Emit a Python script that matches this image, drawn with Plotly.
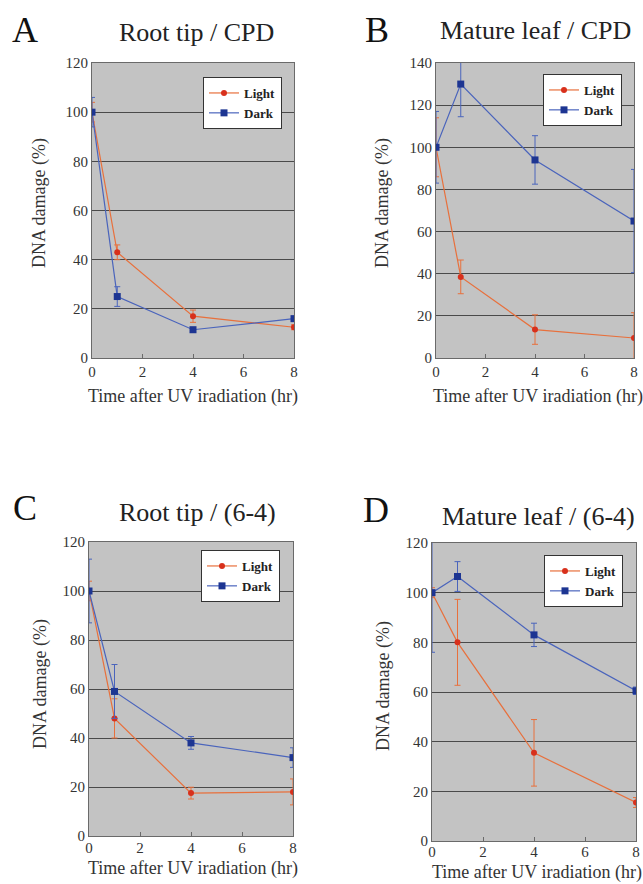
import plotly.graph_objects as go

W, H = 643, 884

time_hr = [0, 1, 4, 8]
x_ticks = [0, 2, 4, 6, 8]

# Panel A: Root tip / CPD
light_A = [100, 43, 17, 12.5]
light_A_err = [4, 3, 2.5, 1]
dark_A = [100, 25, 11.5, 16]
dark_A_err = [6, 4, 1, 1]

# Panel B: Mature leaf / CPD
light_B = [100, 38.5, 13.5, 9.5]
light_B_err = [14, 8, 7, 12]
dark_B = [100, 130, 94, 65]
dark_B_err = [17, 15.5, 11.5, 24.5]

# Panel C: Root tip / (6-4)
light_C = [100, 48, 17.5, 18]
light_C_err = [4, 8, 2.4, 5.3]
dark_C = [100, 59, 38, 32]
dark_C_err = [13, 11, 2.6, 4]

# Panel D: Mature leaf / (6-4)
light_D = [100, 80, 35.5, 15.5]
light_D_err = [2, 17.3, 13.4, 2]
dark_D = [100, 106.5, 83, 60.5]
dark_D_err = [24, 6, 4.7, 1.5]

panel_letters = ["A", "B", "C", "D"]
panel_titles = ["Root tip / CPD", "Mature leaf / CPD", "Root tip / (6-4)", "Mature leaf / (6-4)"]
y_max = [120, 140, 120, 120]
series_names = ["Light", "Dark"]

LIGHT_LINE = "#e8703c"
LIGHT_MARK = "#d8301c"
DARK_LINE = "#4a64bc"
DARK_MARK = "#1d3592"
FONT = "Liberation Serif"

# pixel boxes of plot areas: (left, right, top, bottom)
boxes = [(92, 294, 63, 358), (436, 634, 63, 358), (89, 293, 542, 836), (432, 636, 543, 841)]
legend_pos = [(282, 77), (622, 74), (280, 550), (623, 555)]   # right, top
letter_pos = [(25, 30), (377, 30), (25, 508), (376, 510)]
title_pos = [(196, 33), (535, 31), (197, 512), (538, 516)]
ytitle_pos = [(40, 203), (383, 203), (40, 684), (383, 686)]
xtitle_pos = [(193, 397), (538, 397), (193, 868), (537, 872)]
tick_standoff = [0, 0, -2, -3]

data = [
    (light_A, light_A_err, dark_A, dark_A_err),
    (light_B, light_B_err, dark_B, dark_B_err),
    (light_C, light_C_err, dark_C, dark_C_err),
    (light_D, light_D_err, dark_D, dark_D_err),
]

fig = go.Figure()
annotations = []
layout = {}


def ann(text, px, py, size, color, angle=0):
    return dict(text=text, x=px / W, y=1 - py / H, xref="paper", yref="paper",
                xanchor="center", yanchor="middle", showarrow=False, textangle=angle,
                font=dict(family=FONT, size=size, color=color))


for i in range(4):
    ax = "" if i == 0 else str(i + 1)
    leg = "legend" if i == 0 else "legend%d" % (i + 1)
    l, r, t, b = boxes[i]
    lv, le, dv, de = data[i]
    for name, vals, errs, lc, mc, sym, ms in [
        (series_names[0], lv, le, LIGHT_LINE, LIGHT_MARK, "circle", 6),
        (series_names[1], dv, de, DARK_LINE, DARK_MARK, "square", 7),
    ]:
        fig.add_trace(go.Scatter(
            x=time_hr, y=vals, name=name, mode="lines+markers",
            xaxis="x" + ax, yaxis="y" + ax, legend=leg,
            line=dict(color=lc, width=1.2),
            marker=dict(color=mc, symbol=sym, size=ms),
            error_y=dict(type="data", array=errs, visible=True, color=lc, thickness=1, width=3),
            cliponaxis=True,
        ))
    layout["xaxis" + ax] = dict(
        domain=[l / W, r / W], anchor="y" + ax, range=[0, 8], tickvals=x_ticks,
        showgrid=False, zeroline=False, showline=True, linecolor="#6a6a6a", linewidth=1,
        mirror=True, ticks="inside", ticklen=4, tickcolor="#6a6a6a", automargin=False,
        ticklabelstandoff=tick_standoff[i],
        tickfont=dict(family=FONT, size=15, color="#333333"), fixedrange=True,
    )
    layout["yaxis" + ax] = dict(
        domain=[1 - b / H, 1 - t / H], anchor="x" + ax, range=[0, y_max[i]], dtick=20,
        showgrid=True, gridcolor="#4a4a4a", gridwidth=1.3, zeroline=False, automargin=False,
        showline=True, linecolor="#6a6a6a", linewidth=1, mirror=True, ticks="",
        tickfont=dict(family=FONT, size=15, color="#333333"), fixedrange=True,
    )
    lx, ly = legend_pos[i]
    layout[leg] = dict(
        x=lx / W, y=1 - ly / H, xanchor="right", yanchor="top",
        bgcolor="white", bordercolor="#333333", borderwidth=1,
        font=dict(family=FONT, size=13, color="#222222", weight="bold"),
        itemwidth=30, tracegroupgap=0,
    )
    annotations.append(ann(panel_letters[i], *letter_pos[i], 36, "#111111"))
    annotations.append(ann(panel_titles[i], *title_pos[i], 26, "#222222"))
    annotations.append(ann("DNA damage (%)", *ytitle_pos[i], 18, "#333333", -90))
    annotations.append(ann("Time after UV iradiation (hr)", *xtitle_pos[i], 18, "#333333"))

fig.update_layout(
    width=W, height=H, margin=dict(l=0, r=0, t=0, b=0, pad=0, autoexpand=False),
    paper_bgcolor="white", plot_bgcolor="#c3c3c3",
    annotations=annotations, **layout,
)

fig.write_html("out.html", include_plotlyjs=True, config={"displayModeBar": False},
               post_script="document.body.style.margin='0px';document.body.style.overflow='hidden';")
